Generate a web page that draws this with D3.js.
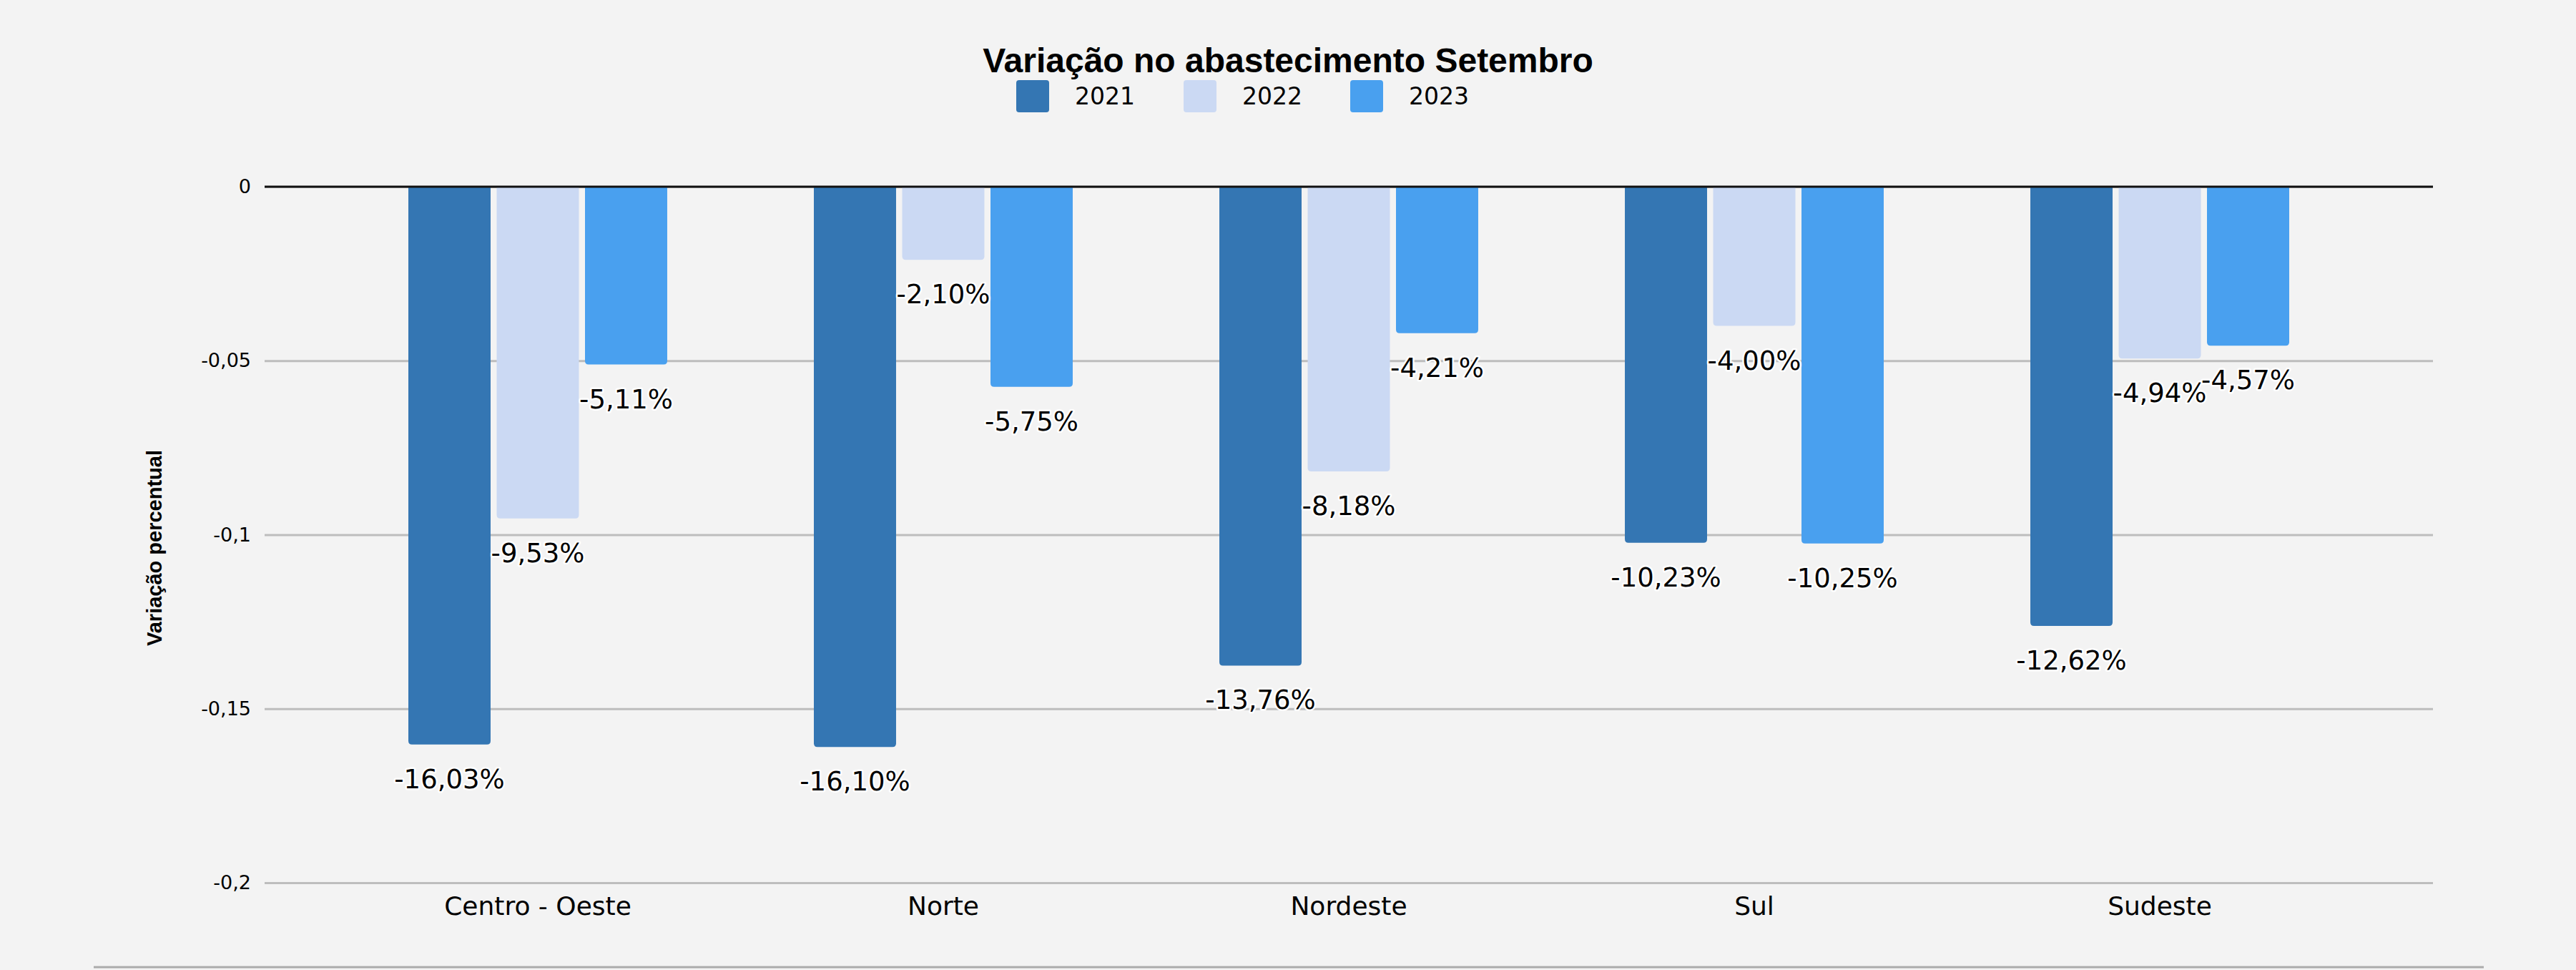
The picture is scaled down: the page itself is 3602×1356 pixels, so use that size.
<!DOCTYPE html>
<html><head><meta charset="utf-8">
<script src="https://cdn.jsdelivr.net/npm/d3@7"></script>
<style>html,body{margin:0;padding:0;background:#f3f3f3;}svg{display:block;}</style>
</head><body>
<script>
const categories = ["Centro - Oeste", "Norte", "Nordeste", "Sul", "Sudeste"];
const years = ["2021", "2022", "2023"];
const v2021 = [-0.1603, -0.1610, -0.1376, -0.1023, -0.1262];
const v2022 = [-0.0953, -0.0210, -0.0818, -0.0400, -0.0494];
const v2023 = [-0.0511, -0.0575, -0.0421, -0.1025, -0.0457];
const yTicks = [0, -0.05, -0.1, -0.15, -0.2];
const yTickLabels = ["0", "-0,05", "-0,1", "-0,15", "-0,2"];
const colors = ["#3476b3", "#cbd9f3", "#49a0ef"];
const title = "Variação no abastecimento Setembro";
const yTitle = "Variação percentual";

const W = 3602, H = 1356;
const plotL = 370, plotR = 3402, plotT = 261, plotB = 1234;

const svg = d3.select("body").append("svg").attr("width", W).attr("height", H);
svg.append("rect").attr("width", W).attr("height", H).attr("fill", "#f3f3f3");

const series = [v2021, v2022, v2023];
const x0 = d3.scaleBand().domain(categories).range([plotL, plotR]).paddingInner(0.3616).paddingOuter(0.3545);
const x1 = d3.scaleBand().domain(years).range([0, x0.bandwidth()]).paddingInner(0.069).paddingOuter(0);
const y = d3.scaleLinear().domain([-0.2, 0]).range([plotB, plotT]);

// gridlines
const yAxis = d3.axisLeft(y).tickValues(yTicks).tickSize(-(plotR - plotL)).tickFormat((d, i) => yTickLabels[i]).tickPadding(19);
const gy = svg.append("g").attr("transform", `translate(${plotL},0)`).call(yAxis);
gy.select(".domain").remove();
gy.selectAll(".tick line").attr("stroke", "#bdbdbd").attr("stroke-width", 3);
gy.selectAll(".tick text").attr("font-family", "DejaVu Sans").attr("font-size", 27).attr("fill", "#000");

// bars
const fmt = v => (v * 100).toFixed(2).replace(".", ",") + "%";
const r = 5;
function barPath(x, w, y0, y1) {
  const h = y1 - y0;
  const rr = Math.min(r, h / 2);
  return `M${x},${y0} L${x + w},${y0} L${x + w},${y1 - rr} Q${x + w},${y1} ${x + w - rr},${y1} L${x + rr},${y1} Q${x},${y1} ${x},${y1 - rr} Z`;
}
const barsG = svg.append("g");
const labelsG = svg.append("g");
categories.forEach((c, ci) => {
  years.forEach((yr, si) => {
    const v = series[si][ci];
    const bx = x0(c) + x1(yr);
    const bw = x1.bandwidth();
    barsG.append("path").attr("d", barPath(bx, bw, y(0), y(v))).attr("fill", colors[si]);
    labelsG.append("text")
      .attr("x", bx + bw / 2).attr("y", y(v) + 61)
      .attr("text-anchor", "middle")
      .attr("font-family", "DejaVu Sans").attr("font-size", 37)
      .attr("fill", "#000").attr("stroke", "#ffffff").attr("stroke-width", 5)
      .attr("stroke-linejoin", "round").attr("paint-order", "stroke")
      .text(fmt(v));
  });
});

// zero line
svg.append("line").attr("x1", plotL).attr("x2", plotR).attr("y1", y(0)).attr("y2", y(0)).attr("stroke", "#111").attr("stroke-width", 3);

// x axis labels
const xAxis = d3.axisBottom(x0).tickSize(0).tickPadding(19);
const gx = svg.append("g").attr("transform", `translate(0,${plotB})`).call(xAxis);
gx.select(".domain").remove();
gx.selectAll(".tick text").attr("font-family", "DejaVu Sans").attr("font-size", 36).attr("fill", "#000");

// y title
svg.append("text").attr("transform", `translate(226,766) rotate(-90)`)
  .attr("text-anchor", "middle").attr("font-family", "Liberation Sans, Arial").attr("font-weight", "bold")
  .attr("font-size", 29).attr("fill", "#000").text(yTitle);

// title
svg.append("text").attr("x", 1801).attr("y", 101).attr("text-anchor", "middle")
  .attr("font-family", "Liberation Sans, Arial").attr("font-weight", "bold").attr("font-size", 48)
  .attr("fill", "#000").text(title);

// legend
const legX = [1421, 1655, 1888];
years.forEach((yr, i) => {
  svg.append("rect").attr("x", legX[i]).attr("y", 112).attr("width", 46).attr("height", 45).attr("rx", 4).attr("fill", colors[i]);
  svg.append("text").attr("x", legX[i] + 82).attr("y", 146).attr("font-family", "DejaVu Sans").attr("font-size", 33).attr("fill", "#000").text(yr);
});

// bottom line
svg.append("line").attr("x1", 131).attr("x2", 3473).attr("y1", 1352).attr("y2", 1352).attr("stroke", "#ababab").attr("stroke-width", 3);
</script>
</body></html>
